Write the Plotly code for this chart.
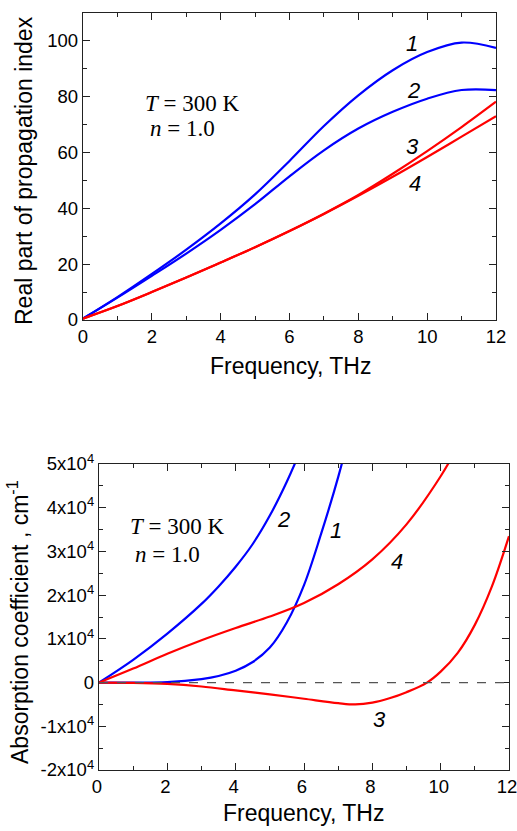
import plotly.graph_objects as go

# ---------------- data: top panel (real part of propagation index) ----------
freq_top = [0, 1, 2, 3, 4, 5, 6, 7, 8, 9, 10, 11, 12]
re_1 = [0.5, 8.2, 16.5, 25.2, 34.6, 45.0, 57.0, 69.5, 80.5, 89.5, 96.0, 99.4, 97.5]
re_2 = [0.5, 8.0, 15.8, 23.8, 32.3, 41.5, 51.5, 60.8, 68.6, 74.6, 79.3, 82.4, 82.4]
re_3 = [0.5, 5.0, 10.0, 15.2, 20.6, 26.1, 31.9, 38.1, 44.8, 52.4, 60.5, 69.1, 78.2]
re_4 = [0.5, 5.0, 10.0, 15.2, 20.6, 26.1, 31.9, 38.0, 44.5, 51.3, 58.4, 65.7, 73.0]

# ---------------- data: bottom panel (absorption coefficient, cm^-1) --------
freq_a1 = [0, 1, 2, 3, 3.5, 4, 4.5, 5, 5.5, 6, 6.5, 7, 7.5]
abs_1 = [0, 0, 100, 800, 1500, 2700, 4700, 8000, 13800, 22300, 34000, 47000, 62000]
freq_a2 = [0, 1, 2, 3, 3.5, 4, 4.5, 5, 5.5, 6]
abs_2 = [0, 5200, 11200, 18000, 22000, 26500, 31700, 38200, 46000, 55000]
freq_a3 = [0, 1, 2, 3, 4, 5, 6, 7, 7.5, 8, 8.5, 9, 9.6, 10, 10.5, 11, 11.5, 12]
abs_3 = [0, -50, -300, -900, -1800, -2700, -3700, -4700, -5000, -4600, -3600,
         -2200, 0, 2500, 6800, 13200, 22000, 33500]
freq_a4 = [0, 1, 2, 3, 4, 5, 6, 7, 8, 9, 10, 10.5]
abs_4 = [0, 3200, 6600, 9700, 12500, 15100, 18200, 22500, 28200, 36200, 47200, 54000]

x_ticks = [0, 2, 4, 6, 8, 10, 12]
re_ticks = [0, 20, 40, 60, 80, 100]
abs_ticks = [-20000, -10000, 0, 10000, 20000, 30000, 40000, 50000]
abs_ticktext = ["-2x10<sup>4</sup>", "-1x10<sup>4</sup>", "0", "1x10<sup>4</sup>",
                "2x10<sup>4</sup>", "3x10<sup>4</sup>", "4x10<sup>4</sup>", "5x10<sup>4</sup>"]

BLUE = "#0000ff"
RED = "#ff0000"
SANS = "Arial, Liberation Sans, sans-serif"
SERIF = "Times New Roman, Liberation Serif, serif"

fig = go.Figure()

def add(x, y, color, xa, ya):
    fig.add_trace(go.Scatter(x=x, y=y, mode="lines", xaxis=xa, yaxis=ya,
                             line=dict(color=color, width=2.2, shape="spline", smoothing=1.0),
                             showlegend=False, hoverinfo="skip"))

add(freq_top, re_1, BLUE, "x", "y")
add(freq_top, re_2, BLUE, "x", "y")
add(freq_top, re_3, RED, "x", "y")
add(freq_top, re_4, RED, "x", "y")

add(freq_a1, abs_1, BLUE, "x2", "y2")
add(freq_a2, abs_2, BLUE, "x2", "y2")
add(freq_a3, abs_3, RED, "x2", "y2")
add(freq_a4, abs_4, RED, "x2", "y2")

W, H = 517, 831
axis_common = dict(showline=True, linecolor="#222", linewidth=1.4, mirror="ticks",
                   ticks="inside", ticklen=7, tickwidth=1.3, tickcolor="#222",
                   showgrid=False, zeroline=False, automargin=False,
                   ticklabeloverflow="allow",
                   tickfont=dict(family=SANS, size=18.5, color="black"))

fig.update_layout(
    width=W, height=H, margin=dict(l=0, r=0, t=0, b=0, pad=0),
    plot_bgcolor="white", paper_bgcolor="white",
    xaxis=dict(domain=[83 / W, 496 / W], anchor="y", range=[0, 12],
               tickvals=x_ticks, minor=dict(ticks="inside", ticklen=4, dtick=1, tickcolor="#222"),
               **axis_common),
    yaxis=dict(domain=[1 - 320 / H, 1 - 13 / H], anchor="x", range=[0, 110],
               tickvals=re_ticks, minor=dict(ticks="inside", ticklen=4, dtick=10, tickcolor="#222"),
               **axis_common),
    xaxis2=dict(domain=[99 / W, 509 / W], anchor="y2", range=[0, 12],
                tickvals=x_ticks, ticklabelshift=-2,
                minor=dict(ticks="inside", ticklen=4, dtick=1, tickcolor="#222"),
                **axis_common),
    yaxis2=dict(domain=[1 - 770 / H, 1 - 464 / H], anchor="x2", range=[-20000, 50000],
                tickvals=abs_ticks, ticktext=abs_ticktext,
                minor=dict(ticks="inside", ticklen=4, dtick=5000, tickcolor="#222"),
                **axis_common),
)

# dashed zero line in bottom panel
fig.add_shape(type="line", xref="x2 domain", x0=0, x1=1, yref="y2", y0=0, y1=0,
              line=dict(color="#555", width=1.2, dash="dash"))

ann = []
# axis titles
ann.append(dict(text="Real part of propagation index", x=24 / W, y=1 - 171 / H, textangle=-90,
                font=dict(family=SANS, size=23, color="black")))
ann.append(dict(text="Frequency, THz", x=290 / W, y=1 - 366 / H,
                font=dict(family=SANS, size=23, color="black")))
ann.append(dict(text="Absorption coefficient , cm<sup>-1</sup>", x=18 / W, y=1 - 622 / H, textangle=-90,
                font=dict(family=SANS, size=23, color="black")))
ann.append(dict(text="Frequency, THz", x=303 / W, y=1 - 813 / H,
                font=dict(family=SANS, size=23, color="black")))
for a in ann:
    a.update(xref="paper", yref="paper", showarrow=False, xanchor="center", yanchor="middle")

# parameters text
for xr, yr, xx, yy, txt in [
    ("x", "y", 1.74, 77.7, "<i>T</i> = 300 K"),
    ("x", "y", 1.89, 68.7, "<i>n</i> = 1.0"),
    ("x2", "y2", 0.85, 35800, "<i>T</i> = 300 K"),
    ("x2", "y2", 1.0, 29200, "<i>n</i> = 1.0"),
]:
    ann.append(dict(text=txt, x=xx, y=yy, xref=xr, yref=yr, showarrow=False,
                    xanchor="left", yanchor="middle",
                    font=dict(family=SERIF, size=23, color="black")))

# curve labels
for xr, yr, xx, yy, txt in [
    ("x", "y", 9.55, 99, "1"), ("x", "y", 9.6, 82.3, "2"),
    ("x", "y", 9.58, 62.3, "3"), ("x", "y", 9.65, 49, "4"),
    ("x2", "y2", 5.39, 37200, "2"), ("x2", "y2", 6.94, 34900, "1"),
    ("x2", "y2", 8.71, 27700, "4"), ("x2", "y2", 8.22, -8500, "3"),
]:
    ann.append(dict(text="<i>" + txt + "</i>", x=xx, y=yy, xref=xr, yref=yr, showarrow=False,
                    xanchor="center", yanchor="middle",
                    font=dict(family=SANS, size=22, color="black")))

fig.update_layout(annotations=ann)
fig.write_html(
    "out.html",
    config={"displayModeBar": False},
    post_script=("document.documentElement.style.margin='0';"
                 "document.body.style.margin='0';document.body.style.padding='0';"
                 "document.documentElement.style.overflow='hidden';"
                 "document.body.style.overflow='hidden';"),
)
